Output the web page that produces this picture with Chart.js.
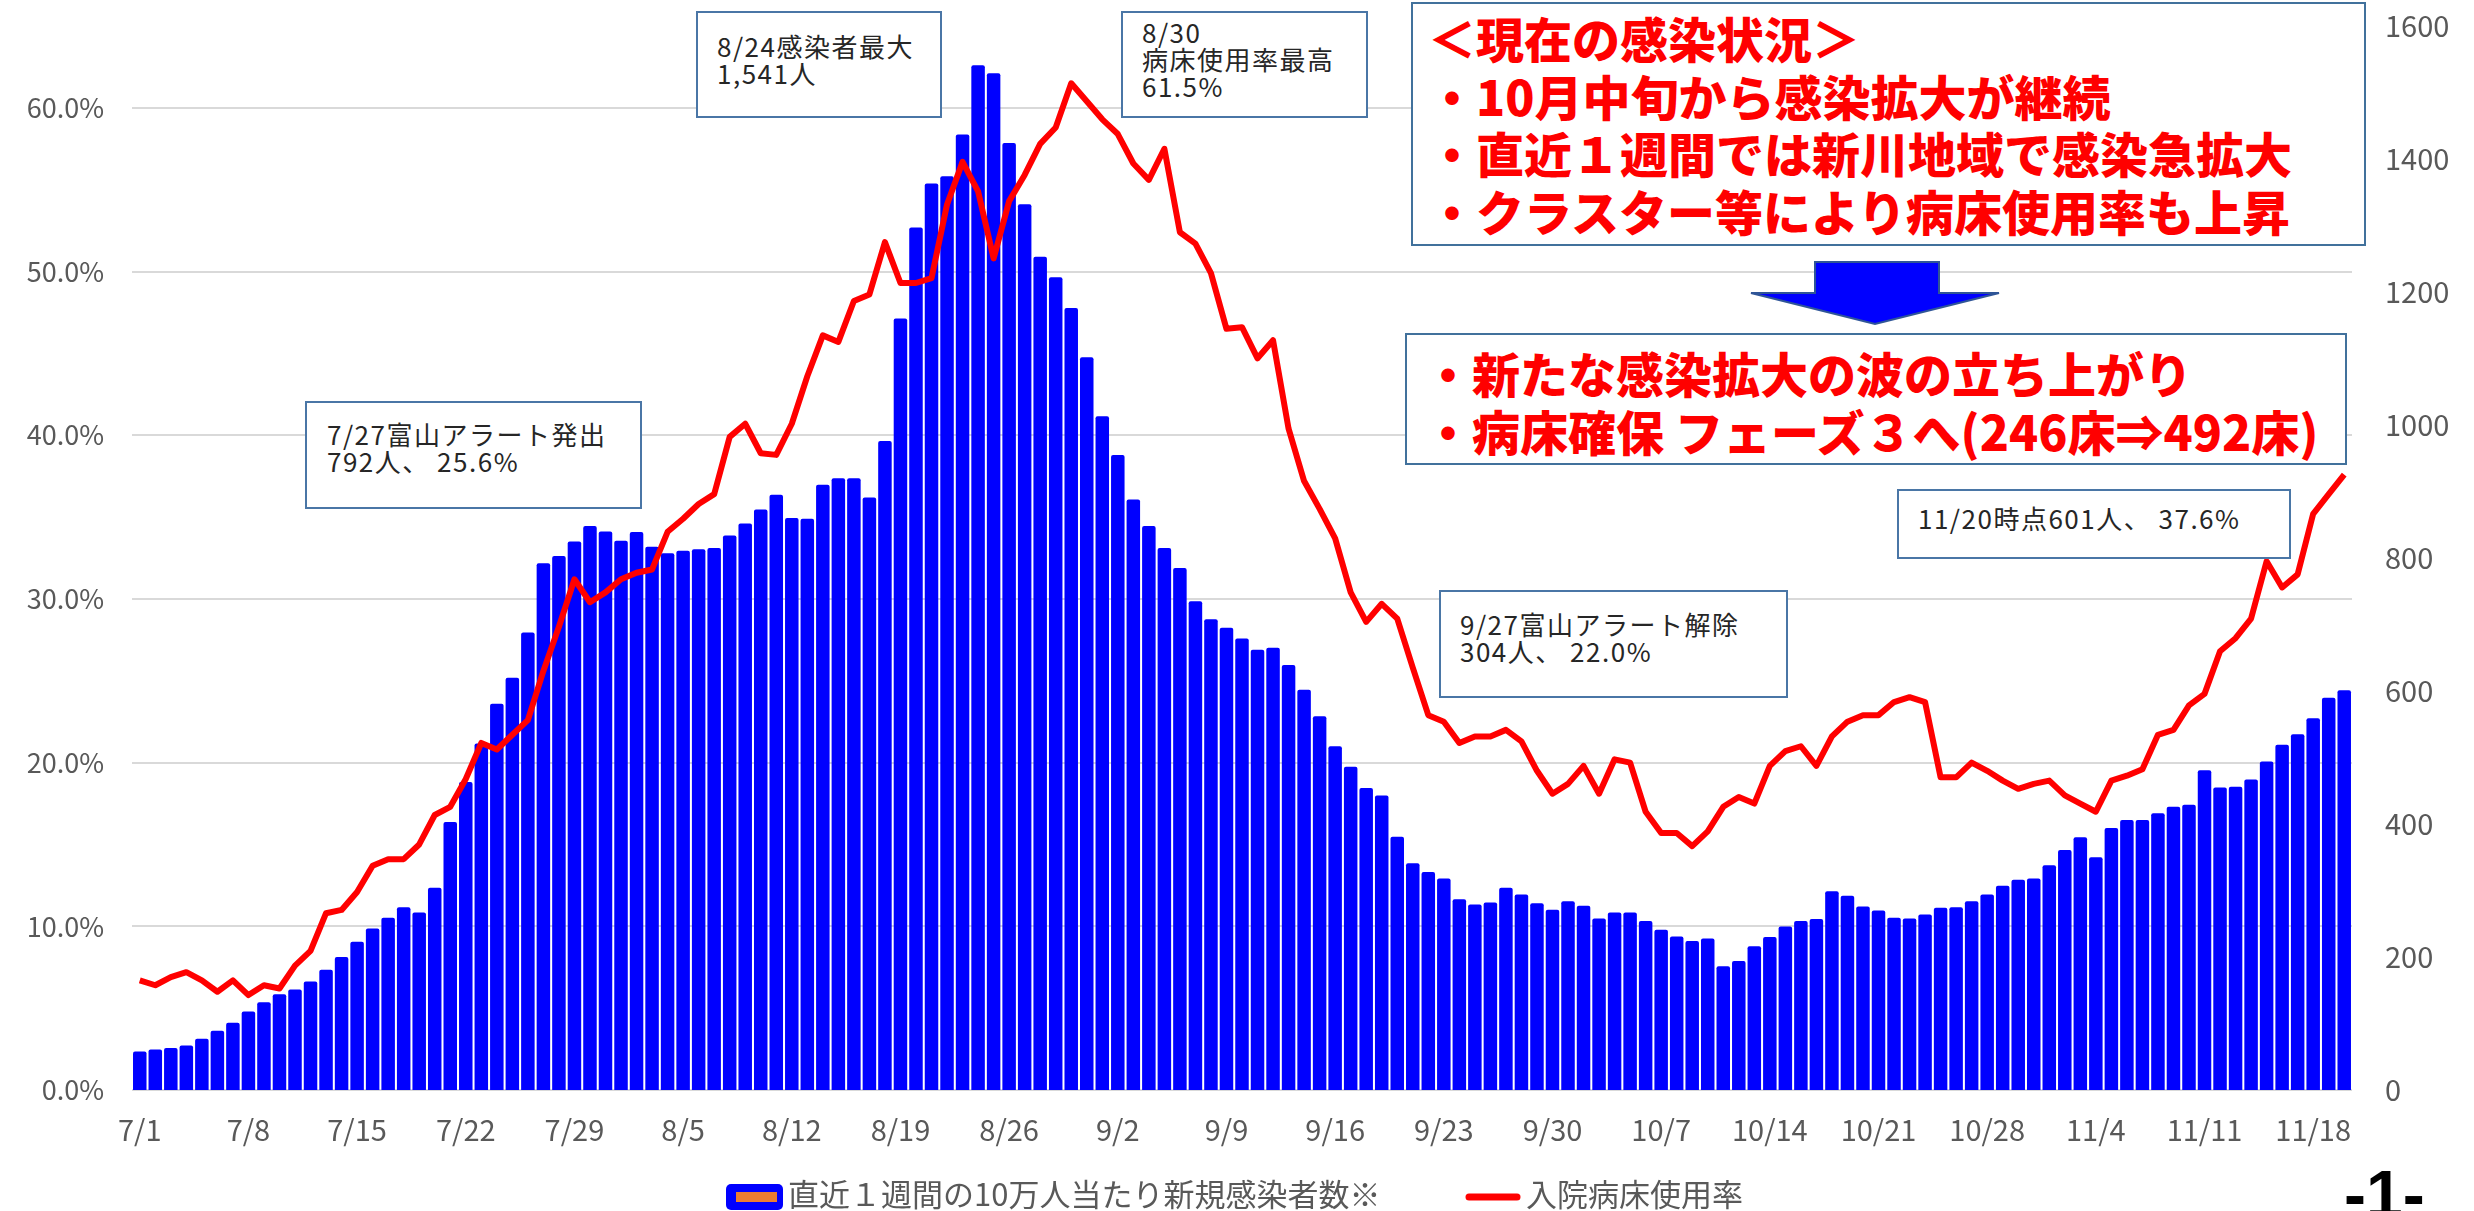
<!DOCTYPE html>
<html lang="ja">
<head>
<meta charset="utf-8">
<title>新規感染者数と入院病床使用率</title>
<script src="https://cdn.jsdelivr.net/npm/chart.js@4.4.1/dist/chart.umd.min.js"></script>
<style>
  body { margin: 0; background: #fff; }
  #wrap { position: relative; width: 2474px; height: 1211px; overflow: hidden; font-family: "Noto Sans CJK JP", sans-serif; }
  #chart { position: absolute; left: 0; top: 0; }
  .note { position: absolute; box-sizing: border-box; background: #fff; border: 2px solid #4a76a6;
          color: #262626; font-size: 26px; line-height: 27px; letter-spacing: 1.5px; white-space: nowrap;
          padding-left: 19px; }
  .big { position: absolute; box-sizing: border-box; background: #fff; border: 2px solid #41719c;
         color: #ff0000; font-weight: 900; font-size: 48px; line-height: 57.5px; white-space: nowrap; }
  #arrow { position: absolute; left: 1745px; top: 255px; }
  #page { position: absolute; left: 2344px; top: 1161px; font-family: "Liberation Sans", sans-serif;
          font-weight: 700; font-size: 66px; line-height: 66px; color: #000; }
</style>
</head>
<body>
<div id="wrap">
  <canvas id="chart" width="2474" height="1211"></canvas>

  <div class="note" style="left:305px; top:401px; width:337px; height:108px; padding-top:17px; padding-left:20px;">7/27富山アラート発出<br>792人、 25.6%</div>
  <div class="note" style="left:696px; top:11px; width:246px; height:107px; padding-top:19px;">8/24感染者最大<br>1,541人</div>
  <div class="note" style="left:1121px; top:11px; width:247px; height:107px; padding-top:5px;">8/30<br>病床使用率最高<br>61.5%</div>
  <div class="note" style="left:1439px; top:590px; width:349px; height:108px; padding-top:18px;">9/27富山アラート解除<br>304人、 22.0%</div>
  <div class="note" style="left:1897px; top:489px; width:394px; height:70px; padding-top:13px;">11/20時点601人、 37.6%</div>

  <div class="big" style="left:1411px; top:2px; width:955px; height:244px; padding-top:5px; padding-left:15px;">＜現在の感染状況＞<br>・10月中旬から感染拡大が継続<br>・直近１週間では新川地域で感染急拡大<br>・クラスター等により病床使用率も上昇</div>

  <svg id="arrow" width="262" height="76" viewBox="0 0 262 76">
    <polygon points="70,7 194,7 194,38 254,38 130,69 6,38 70,38" fill="#0000ff" stroke="#2f5597" stroke-width="2"/>
  </svg>

  <div class="big" style="left:1405px; top:333px; width:942px; height:132px; padding-top:9px; padding-left:17px;">・新たな感染拡大の波の立ち上がり<br>・病床確保 フェーズ３へ(246床⇒492床)</div>

  <div id="page">-1-</div>
</div>

<script>
// categories: 7/1 .. 11/20, one per day
const monthSpans = [[7, 31], [8, 31], [9, 30], [10, 31], [11, 20]];
const dates = [];
monthSpans.forEach(([m, n]) => {
  for (let d = 1; d <= n; d++) dates.push(m + '/' + d);
});

// dates that get a tick label
const tickDates = ['7/1', '7/8', '7/15', '7/22', '7/29', '8/5', '8/12', '8/19', '8/26', '9/2', '9/9',
  '9/16', '9/23', '9/30', '10/7', '10/14', '10/21', '10/28', '11/4', '11/11', '11/18'];

// 直近１週間の10万人当たり新規感染者数 (right axis)
const casesJul = [58, 61, 63, 67, 77, 89, 101, 118, 132, 144, 151, 163, 181, 200, 223, 243, 259, 275, 267, 304,
  403, 463, 521, 581, 620, 688, 792, 803, 825, 848, 840];
const casesAug = [826, 839, 817, 807, 811, 813, 815, 834, 852, 873, 895, 860, 859, 910, 920, 920, 891, 976, 1160, 1297,
  1363, 1374, 1437, 1541, 1529, 1424, 1332, 1253, 1222, 1176, 1102];
const casesSep = [1013, 955, 888, 848, 815, 785, 735, 708, 695, 679, 662, 665, 639, 602, 562, 517, 486, 454, 443, 381,
  341, 328, 318, 287, 279, 282, 304, 294, 281, 271];
const casesOct = [284, 277, 258, 267, 267, 254, 241, 231, 224, 228, 186, 194, 216, 230, 246, 254, 257, 299, 292, 276,
  270, 259, 258, 264, 274, 275, 284, 294, 307, 316, 318];
const casesNov = [338, 361, 380, 350, 394, 406, 406, 416, 426, 429, 481, 455, 456, 467, 494, 519, 535, 559, 590, 601];

// 入院病床使用率 in % (left axis)
const bedJul = [6.7, 6.4, 6.9, 7.2, 6.7, 6.0, 6.7, 5.8, 6.4, 6.2, 7.6, 8.5, 10.8, 11.0, 12.1, 13.7, 14.1, 14.1, 15.0, 16.8,
  17.3, 19.0, 21.2, 20.8, 21.7, 22.6, 25.6, 28.3, 31.2, 29.8, 30.4];
const bedAug = [31.2, 31.6, 31.8, 34.1, 34.9, 35.8, 36.4, 39.9, 40.7, 38.9, 38.8, 40.7, 43.6, 46.1, 45.7, 48.2, 48.6, 51.8, 49.3, 49.3,
  49.6, 54.1, 56.7, 54.9, 50.8, 54.3, 55.9, 57.8, 58.8, 61.5, 60.4];
const bedSep = [59.3, 58.4, 56.6, 55.6, 57.5, 52.4, 51.7, 49.9, 46.5, 46.6, 44.7, 45.8, 40.4, 37.2, 35.5, 33.7, 30.4, 28.6, 29.7, 28.8,
  25.8, 22.9, 22.5, 21.2, 21.6, 21.6, 22.0, 21.3, 19.5, 18.1];
const bedOct = [18.7, 19.8, 18.1, 20.2, 20.0, 17.0, 15.7, 15.7, 14.9, 15.8, 17.3, 17.9, 17.5, 19.8, 20.7, 21.0, 19.8, 21.6, 22.5, 22.9,
  22.9, 23.7, 24.0, 23.7, 19.1, 19.1, 20.0, 19.5, 18.9, 18.4, 18.7];
const bedNov = [18.9, 18.0, 17.5, 17.0, 18.9, 19.2, 19.6, 21.7, 22.0, 23.5, 24.2, 26.8, 27.6, 28.8, 32.3, 30.7, 31.5, 35.2, 36.4, 37.6];

const cases = [...casesJul, ...casesAug, ...casesSep, ...casesOct, ...casesNov];
const bedRate = [...bedJul, ...bedAug, ...bedSep, ...bedOct, ...bedNov];

const FONT = '"Noto Sans CJK JP", sans-serif';
Chart.defaults.font.family = FONT;
Chart.defaults.color = '#595959';

// legend drawn under the axis, like the original
const bottomLegend = {
  id: 'bottomLegend',
  afterDraw(chart) {
    const c = chart.ctx;
    const ds = chart.data.datasets;
    c.save();
    c.fillStyle = '#0000ff';
    c.beginPath();
    c.roundRect(726, 1184, 57, 26, 5);
    c.fill();
    c.fillStyle = '#ed7d31';
    c.fillRect(736, 1192, 41, 10);

    c.font = '31px ' + FONT;
    c.fillStyle = '#595959';
    c.textBaseline = 'middle';
    c.fillText(ds[1].label, 788, 1194);

    c.strokeStyle = '#ff0000';
    c.lineWidth = 7;
    c.lineCap = 'round';
    c.beginPath();
    c.moveTo(1469, 1197);
    c.lineTo(1517, 1197);
    c.stroke();
    c.fillText(ds[0].label, 1526, 1194);
    c.restore();
  }
};

// fixed axis widths, and no extra top/bottom room from tick padding
const fixY = w => s => { s.width = w; s.paddingTop = 0; s.paddingBottom = 0; };

new Chart(document.getElementById('chart'), {
  data: {
    labels: dates,
    datasets: [
      {
        type: 'line',
        label: '入院病床使用率',
        data: bedRate,
        yAxisID: 'y',
        borderColor: '#ff0000',
        borderWidth: 6,
        borderJoinStyle: 'round',
        pointRadius: 0,
        tension: 0,
        order: 0
      },
      {
        type: 'bar',
        label: '直近１週間の10万人当たり新規感染者数※',
        data: cases,
        yAxisID: 'y1',
        backgroundColor: '#0000ff',
        barPercentage: 0.87,
        categoryPercentage: 1,
        borderRadius: 2,
        order: 1
      }
    ]
  },
  options: {
    responsive: false,
    animation: false,
    layout: { padding: { top: 26, bottom: 61, left: 0, right: 0 } },
    plugins: { legend: { display: false }, tooltip: { enabled: false } },
    scales: {
      x: {
        grid: { display: false, drawTicks: false },
        border: { display: false },
        ticks: {
          autoSkip: false, maxRotation: 0, minRotation: 0, padding: 23,
          font: { size: 29 },
          callback: (v, i) => tickDates.includes(dates[i]) ? dates[i] : ''
        },
        afterFit: s => { s.height = 60; }
      },
      y: {
        position: 'left',
        min: 0, max: 65,
        ticks: { stepSize: 10, padding: 28, font: { size: 27 }, callback: v => v.toFixed(1) + '%' },
        grid: { color: '#d9d9d9', lineWidth: 2, drawTicks: false },
        border: { display: false },
        afterBuildTicks: s => { s.ticks = s.ticks.filter(t => t.value <= 60); },
        afterFit: fixY(132)
      },
      y1: {
        position: 'right',
        min: 0, max: 1600,
        ticks: { stepSize: 200, padding: 33, font: { size: 29 }, callback: v => String(v) },
        grid: { display: false, drawTicks: false },
        border: { display: false },
        afterFit: fixY(122)
      }
    }
  },
  plugins: [bottomLegend]
});
</script>
</body>
</html>
